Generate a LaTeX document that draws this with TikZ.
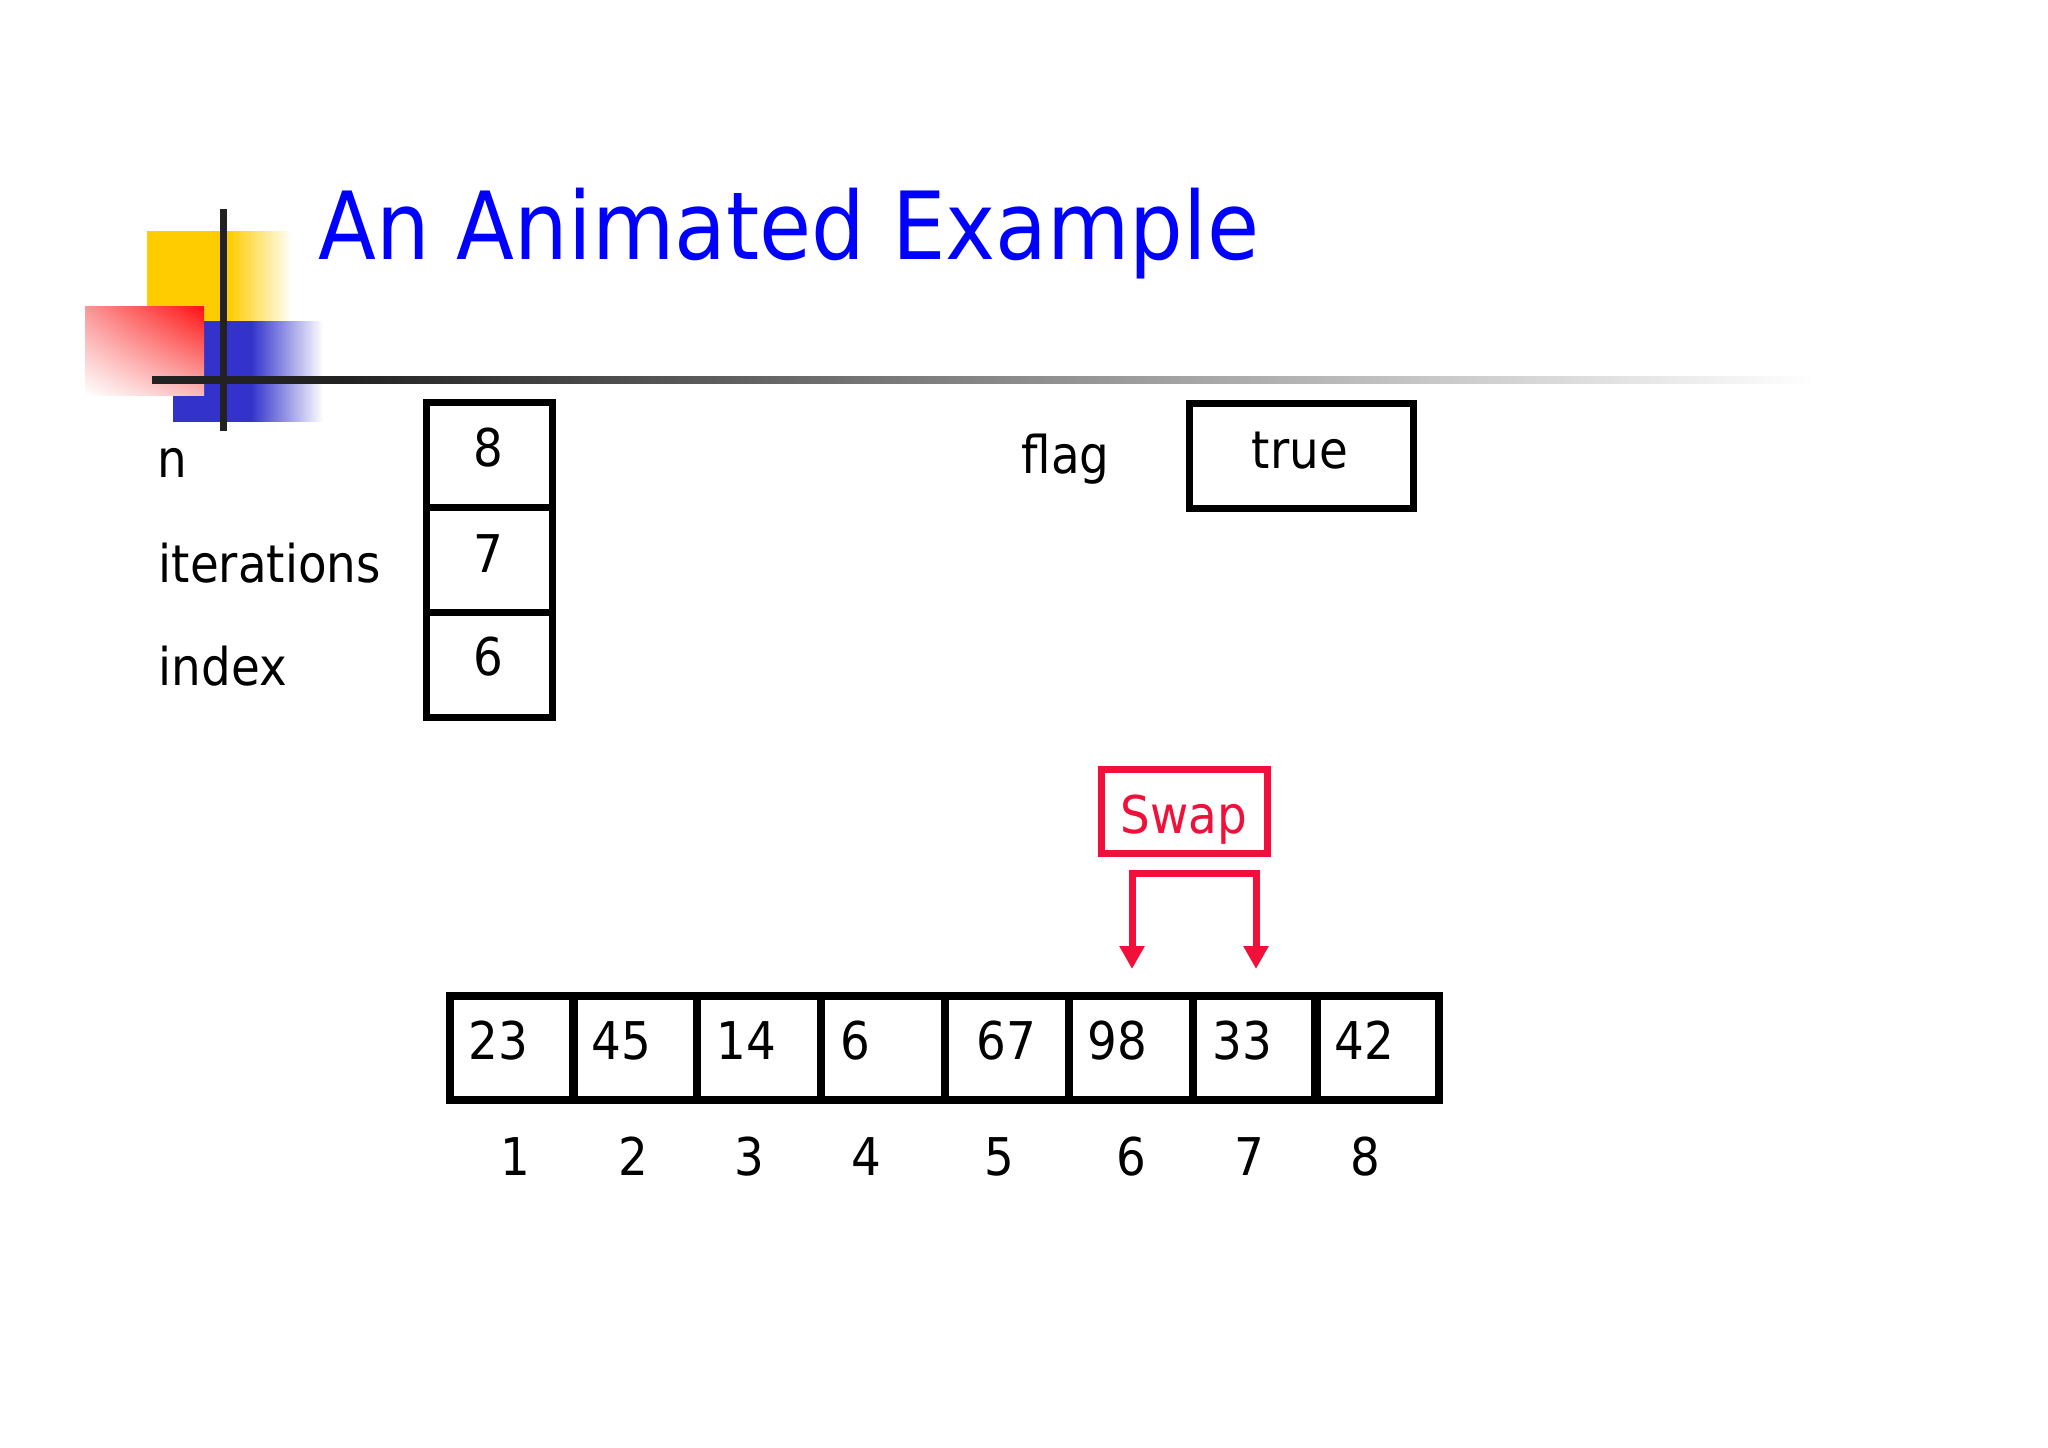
\documentclass[tikz,border=0pt]{standalone}
\usepackage{fontspec}
\setmainfont{DejaVu Sans}[FakeStretch=0.9]
\usetikzlibrary{arrows.meta,shadings}
\definecolor{titleblue}{RGB}{0,0,255}
\definecolor{swapred}{RGB}{240,16,58}
\definecolor{logoyellow}{RGB}{255,204,0}
\definecolor{logoblue}{RGB}{51,51,204}
\definecolor{logored}{RGB}{255,16,16}
\definecolor{logopinkA}{RGB}{250,150,150}
\definecolor{logopinkB}{RGB}{250,185,185}
\definecolor{darkline}{RGB}{34,34,34}
\pgfdeclarehorizontalshading{hlinefade}{100bp}{color(0bp)=(darkline); color(30.7bp)=(darkline); color(47.5bp)=(darkline!60); color(75bp)=(white); color(100bp)=(white)}
\pgfdeclarehorizontalshading{yellowfade}{100bp}{color(0bp)=(logoyellow); color(53bp)=(logoyellow); color(75bp)=(white); color(100bp)=(white)}
\pgfdeclarehorizontalshading{bluefade}{100bp}{color(0bp)=(logoblue); color(51bp)=(logoblue); color(75bp)=(white); color(100bp)=(white)}
\tikzset{
  txt/.style={inner sep=0pt, font=\fontsize{15.6pt}{18pt}\selectfont},
  ttl/.style={inner sep=0pt, text=titleblue, font=\fontsize{28.2pt}{32pt}\selectfont},
  varbox/.style={draw=black, line width=2.1pt, minimum width=126*0.3pt, minimum height=105*0.3pt, inner sep=0pt},
  cellbox/.style={draw=black, line width=2.2pt, minimum width=124*0.3pt, minimum height=104*0.3pt, inner sep=0pt},
  swapbox/.style={draw=swapred, line width=2.1pt, minimum width=166*0.3pt, minimum height=84*0.3pt, inner sep=0pt},
  swaparrow/.style={draw=swapred, line width=2.1pt, miter limit=10, {Triangle[width=24*0.3pt,length=23*0.3pt]}-{Triangle[width=24*0.3pt,length=23*0.3pt]}},
}
\begin{document}
\begin{tikzpicture}[x=0.3pt,y=-0.3pt]
\fill[white] (0,0) rectangle (2048,1448);
\useasboundingbox (0,0) rectangle (2048,1448);
% logo
\shade[shading=yellowfade] (147,232) rectangle (292,320);
\shade[shading=bluefade] (173,321) rectangle (323,421);
\shade[upper right=logored, upper left=logopinkA, lower right=logopinkB, lower left=white] (85,306) rectangle (204,395);
\shade[shading=hlinefade] (152,376.5) rectangle (1815,383.5);
\fill[darkline] (219.5,209) rectangle (226.5,431);
% title
\node[ttl, anchor=base west] (title) at (318,260) {An Animated Example};
% variables
\node[txt, anchor=base west] (ln) at (157,477) {n};
\node[txt, anchor=base west] (lit) at (158,582) {iterations};
\node[txt, anchor=base west] (lidx) at (158,685) {index};
\node[varbox] (bn) at (489,455) {};
\node[varbox] (bit) at (489,560) {};
\node[varbox] (bidx) at (489,664.5) {};
\node[txt, anchor=base] (vn) at (488,466) {8};
\node[txt, anchor=base] (vit) at (488,572) {7};
\node[txt, anchor=base] (vidx) at (488,675) {6};
% flag
\node[txt, anchor=base west] (lflag) at (1021,473) {flag};
\node[varbox, minimum width=224*0.3pt] (bflag) at (1301,455.5) {};
\node[txt, anchor=base] (vflag) at (1300,468) {true};
% swap
\node[swapbox] (swap) at (1184,811) {};
\node[txt, anchor=base, text=swapred] (swaptxt) at (1184,833) {Swap};
\coordinate (tipL) at (1132,969);
\coordinate (tipR) at (1256,969);
\draw[swaparrow] (tipL) -- ++(0,-96) -| (tipR);
% array
\foreach \i/\cx/\v/\tx/\lx in {1/512/23/468/515, 2/635/45/591/633, 3/759/14/716/749, 4/883/6/840/866, 5/1007/67/976/999, 6/1131/98/1087/1131, 7/1255/33/1212/1249, 8/1377/42/1334/1365}{
  \node[cellbox] (c\i) at (\cx,1048) {};
  \node[txt, anchor=base west] (v\i) at (\tx,1059) {\v};
  \node[txt, anchor=base] (i\i) at (\lx,1175) {\i};
}
\end{tikzpicture}
\end{document}
